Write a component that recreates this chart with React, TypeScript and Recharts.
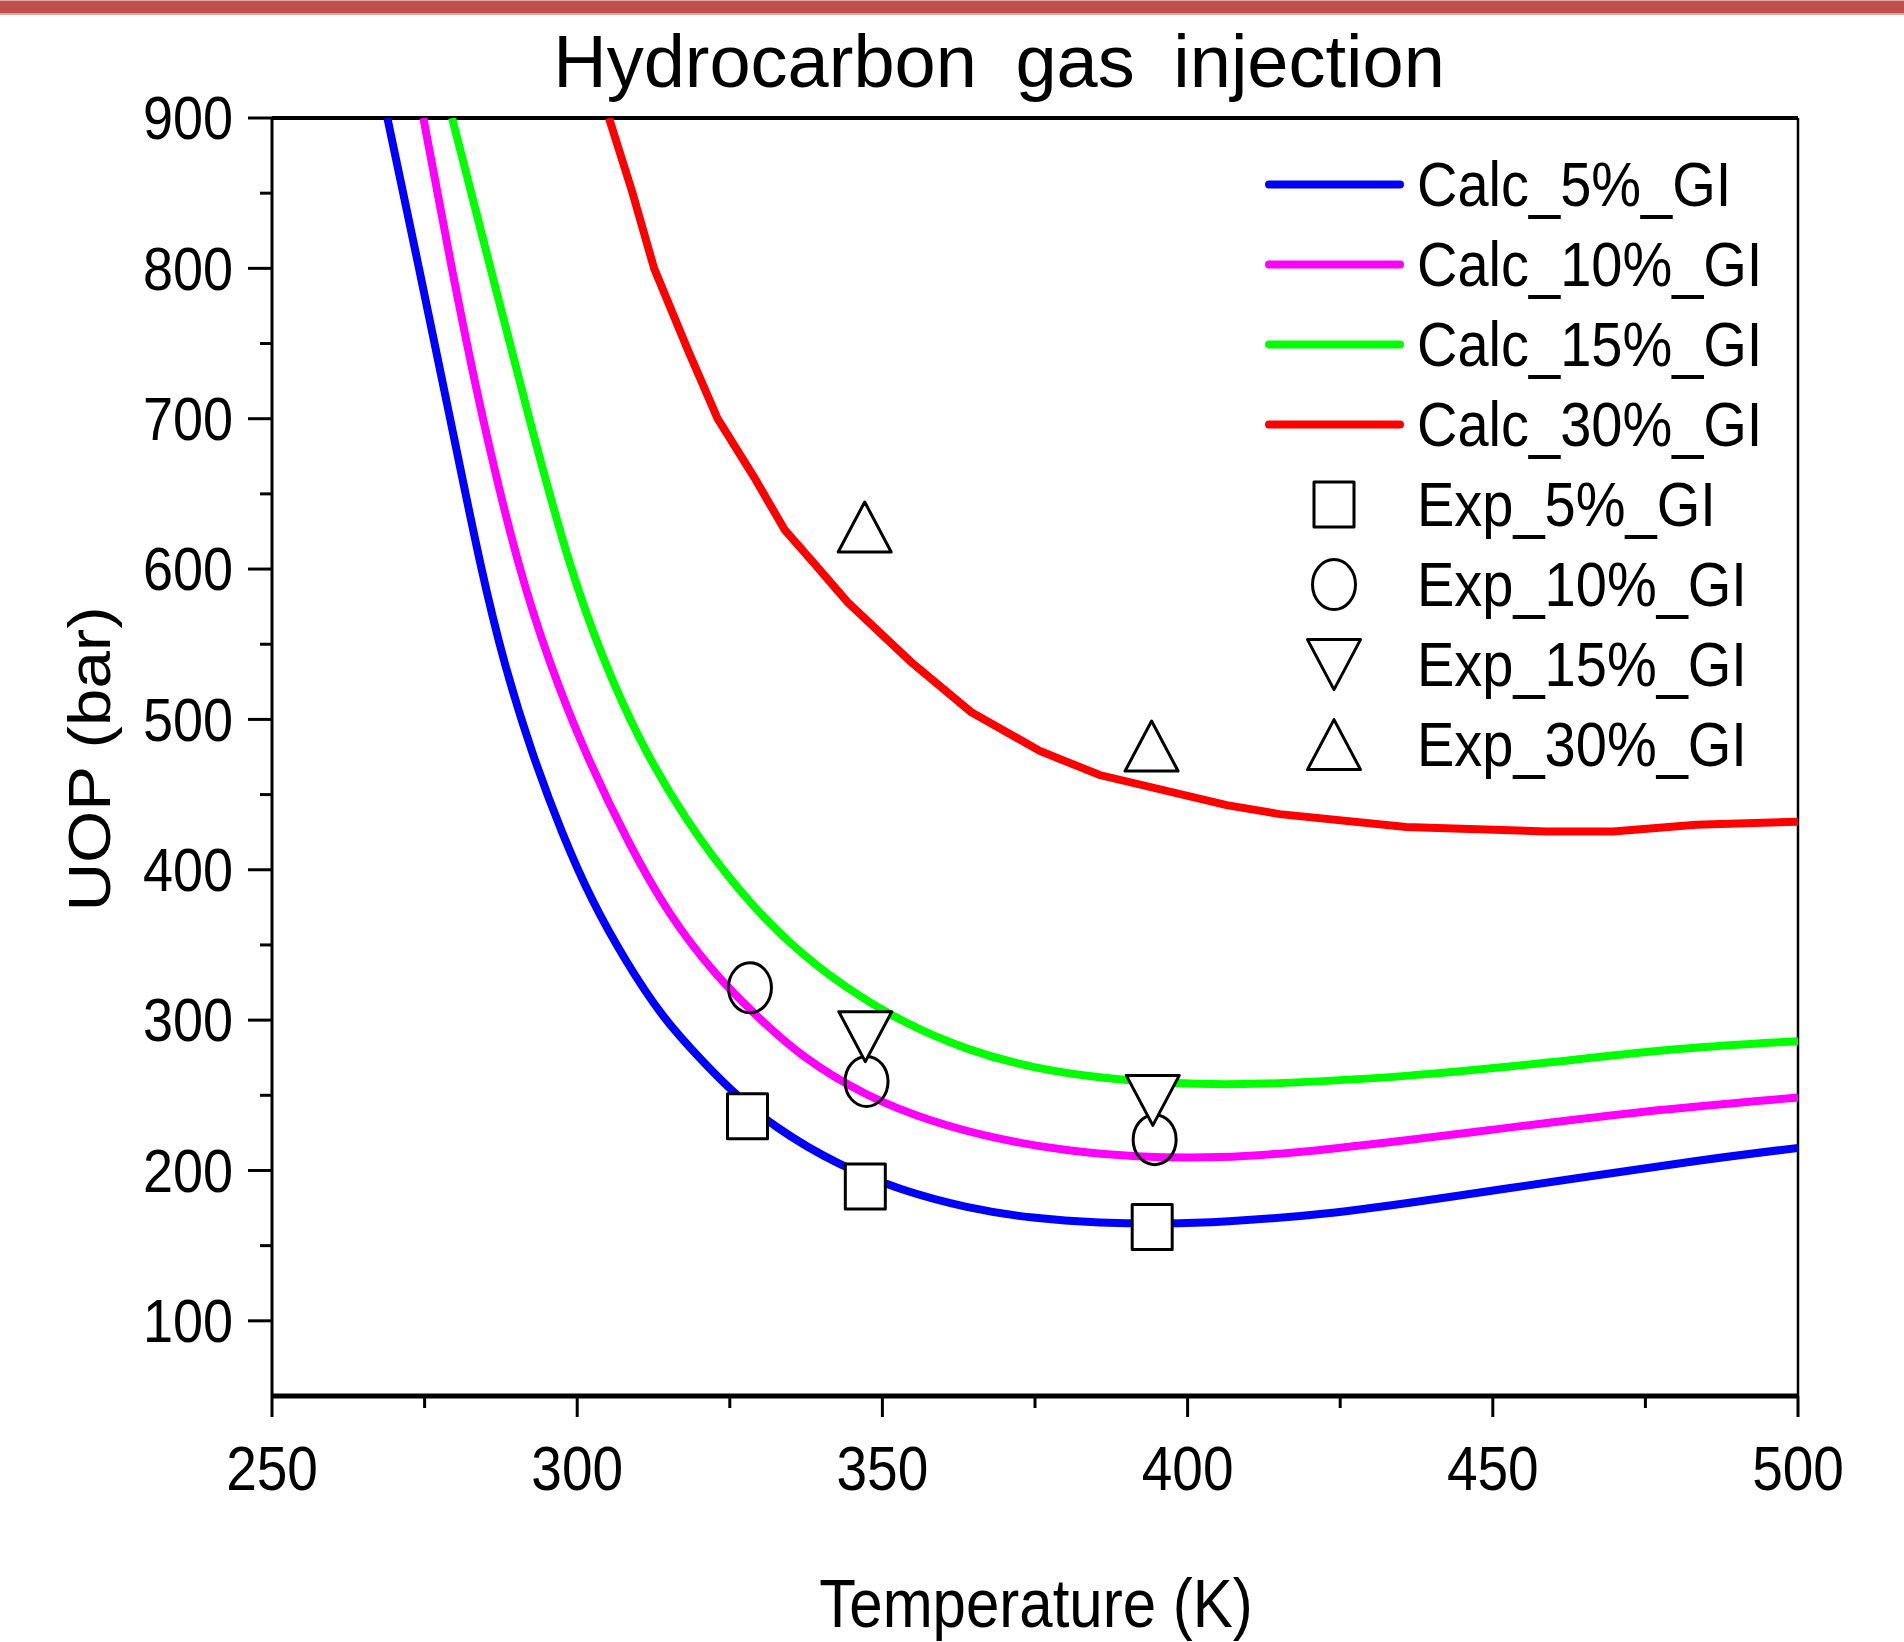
import React from "react";
import { ComposedChart, Line, Scatter, XAxis, YAxis, ReferenceLine } from "recharts";

// temperature (K), UOP (bar)
const calc5 = [
  [268.9, 900], [274.1, 800], [279.2, 700], [284.2, 600], [288.2, 534], [292.6, 477], [297.5, 424],
  [302.4, 379], [307.8, 340], [313.9, 302], [320.1, 274.5], [325.0, 254], [332.1, 229], [343.0, 203],
  [352.9, 187], [363.8, 175], [374.7, 168], [385.6, 165], [396.5, 164.5], [405, 165.5], [424, 171],
  [444, 183], [464, 195], [484, 207], [500, 215],
];
const calc10 = [
  [274.8, 900], [279.4, 800], [284.4, 700], [290.4, 600], [295.3, 539], [301.3, 477], [308.7, 415],
  [315.0, 370], [322.6, 330], [329.2, 303.5], [336.5, 276], [347.4, 249], [358.3, 232], [369.2, 220.5],
  [380.2, 213], [391.1, 209], [405, 208], [420.5, 212.5], [447.9, 226], [475.2, 240], [500, 248.5],
];
const calc15 = [
  [279.5, 900], [285.8, 800], [292.1, 700], [298.8, 600], [304.1, 541], [310.1, 486], [317.7, 433],
  [326.4, 386], [334.9, 350], [343.6, 322.4], [352.9, 299.2], [363.8, 280], [374.7, 268], [385.6, 261.5],
  [396.5, 258], [410, 256.5], [437, 262.6], [459, 271.6], [481, 281.7], [500, 286],
];
const calc30 = [
  [305.2, 900], [309.0, 851], [312.6, 800], [318.2, 745], [323.0, 700], [329.0, 661], [334.0, 626],
  [339.2, 602], [344.3, 578], [354.6, 538.5], [364.5, 505], [375.8, 479], [385.6, 463], [406.4, 443],
  [415.1, 437], [435.8, 428.5], [458.8, 425.5], [469.7, 425.5], [483.3, 430], [500, 432],
];
const exp5 = [[327.9, 236], [347.2, 189.4], [394.2, 162.4]];
const exp10 = [[328.3, 321.5], [347.4, 259.2], [394.6, 220.5]];
const exp15 = [[347.2, 289], [394.3, 246.6]];
const exp30 = [[347.1, 628], [394.1, 482.3]];

const xTicks = [250, 275, 300, 325, 350, 375, 400, 425, 450, 475, 500];
const yTicks = [100, 150, 200, 250, 300, 350, 400, 450, 500, 550, 600, 650, 700, 750, 800, 850, 900];

const toRows = (pts: number[][]) => pts.map(([t, p]) => ({ t, p }));

const lineSeries = [
  { name: "Calc_5%_GI", color: "#0000ff", data: toRows(calc5), type: "basis" },
  { name: "Calc_10%_GI", color: "#ff00ff", data: toRows(calc10), type: "basis" },
  { name: "Calc_15%_GI", color: "#00ff00", data: toRows(calc15), type: "basis" },
  { name: "Calc_30%_GI", color: "#ff0000", data: toRows(calc30), type: "linear" },
];
const expSeries = [
  { name: "Exp_5%_GI", shape: "square", data: toRows(exp5) },
  { name: "Exp_10%_GI", shape: "circle", data: toRows(exp10) },
  { name: "Exp_15%_GI", shape: "down", data: toRows(exp15) },
  { name: "Exp_30%_GI", shape: "up", data: toRows(exp30) },
];

const W = 1904;
const H = 1642;
const FONT = '"Liberation Sans", Arial, sans-serif';
const SY = 1.14; // the original figure is slightly stretched vertically

function Glyph({ kind, cx, cy }: { kind: string; cx: number; cy: number }) {
  const common = { stroke: "#000", strokeWidth: 3, strokeLinejoin: "round" as const };
  if (kind === "square") return <rect x={cx - 20} y={cy - 22.5} width={40} height={45} fill="#fff" {...common} />;
  if (kind === "circle") return <ellipse cx={cx} cy={cy} rx={21.5} ry={25} fill="none" {...common} />;
  if (kind === "down")
    return <polygon points={`${cx - 26.5},${cy - 25} ${cx + 26.5},${cy - 25} ${cx},${cy + 25}`} fill="#fff" {...common} />;
  return <polygon points={`${cx - 26.5},${cy + 25} ${cx + 26.5},${cy + 25} ${cx},${cy - 25}`} fill="#fff" {...common} />;
}

function YTick({ x, y, payload }: any) {
  const v = payload.value;
  const major = v % 100 === 0;
  return (
    <g>
      <line x1={x} x2={x - (major ? 24 : 12)} y1={y} y2={y} stroke="#000" strokeWidth={3} />
      {major && (
        <text transform={`translate(${x - 39},${y}) scale(1,${SY})`} textAnchor="end" dominantBaseline="central"
          fontSize={54} fontFamily={FONT} fill="#000">{v}</text>
      )}
    </g>
  );
}

function XTick({ x, y, payload }: any) {
  const v = payload.value;
  const major = v % 50 === 0;
  return (
    <g>
      <line x1={x} x2={x} y1={y} y2={y + (major ? 21 : 12)} stroke="#000" strokeWidth={3} />
      {major && (
        <text transform={`translate(${x},${y + 94}) scale(1,${SY})`} textAnchor="middle"
          fontSize={55} fontFamily={FONT} fill="#000">{v}</text>
      )}
    </g>
  );
}

export default function App() {
  return (
    <div style={{ position: "absolute", left: 0, top: 0, width: W, height: H, background: "#fff", overflow: "hidden" }}>
      <div style={{ position: "absolute", left: 0, top: 0, width: W, height: 12, background: "#c0504d",
        borderTop: "1.5px solid #e3aaa8", borderBottom: "2px solid #e3aaa8" }} />
      <ComposedChart width={W} height={H} margin={{ top: 118, right: 106, bottom: 146, left: 172 }}>
        <XAxis dataKey="t" type="number" domain={[250, 500]} ticks={xTicks} interval={0} allowDataOverflow
          height={100} tickSize={0} tickMargin={0} tickLine={false} tick={<XTick />} stroke="#000" strokeWidth={5} />
        <YAxis dataKey="p" type="number" domain={[50, 900]} ticks={yTicks} interval={0} allowDataOverflow
          width={100} tickSize={0} tickMargin={0} tickLine={false} tick={<YTick />} stroke="#000" strokeWidth={3} />
        <ReferenceLine y={900} stroke="#000" strokeWidth={4} />
        <ReferenceLine x={500} stroke="#000" strokeWidth={2.5} />
        {lineSeries.map((s) => (
          <Line key={s.name} data={s.data} dataKey="p" name={s.name} type={s.type as any} stroke={s.color}
            strokeWidth={8} dot={false} activeDot={false} isAnimationActive={false} />
        ))}
        {expSeries.map((s) => (
          <Scatter key={s.name} data={s.data} dataKey="p" name={s.name} isAnimationActive={false}
            shape={(p: any) => <Glyph kind={s.shape} cx={p.cx} cy={p.cy} />} />
        ))}
      </ComposedChart>
      <svg width={W} height={H} style={{ position: "absolute", left: 0, top: 0, pointerEvents: "none" }}>
        <text x={999} y={87} textAnchor="middle" fontSize={74} wordSpacing={18}
          fontFamily={FONT} fill="#000">Hydrocarbon gas injection</text>
        <text transform={`translate(1036,1627) scale(1,${SY})`} textAnchor="middle" fontSize={60}
          fontFamily={FONT} fill="#000">Temperature (K)</text>
        <text transform={`translate(110,759) rotate(-90) scale(${SY},1)`} textAnchor="middle" fontSize={59}
          fontFamily={FONT} fill="#000">UOP (bar)</text>
        {lineSeries.map((s, i) => {
          const y = 184.6 + 80 * i;
          return (
            <g key={s.name}>
              <line x1={1269} x2={1400} y1={y} y2={y} stroke={s.color} strokeWidth={8} strokeLinecap="round" />
              <text transform={`translate(1417,${y}) scale(1,${SY})`} dominantBaseline="central" fontSize={56}
                fontFamily={FONT} fill="#000">{s.name}</text>
            </g>
          );
        })}
        {expSeries.map((s, i) => {
          const y = 184.6 + 80 * (i + 4);
          return (
            <g key={s.name}>
              <Glyph kind={s.shape} cx={1334} cy={y} />
              <text transform={`translate(1417,${y}) scale(1,${SY})`} dominantBaseline="central" fontSize={56}
                fontFamily={FONT} fill="#000">{s.name}</text>
            </g>
          );
        })}
      </svg>
    </div>
  );
}
